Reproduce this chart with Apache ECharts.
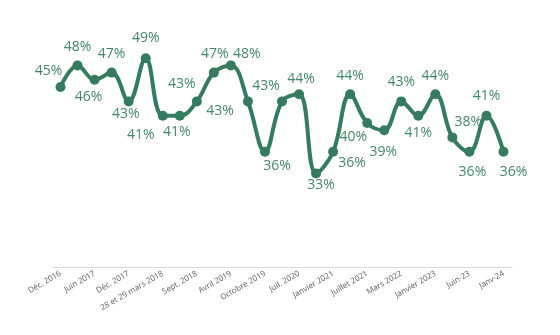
<!DOCTYPE html>
<html>
<head>
<meta charset="utf-8">
<script src="https://cdn.jsdelivr.net/npm/echarts@6/dist/echarts.min.js"></script>
<style>
html,body{margin:0;padding:0;background:#fff;}
#chart{width:560px;height:335px;}
</style>
</head>
<body>
<div id="chart"></div>
<script>
var categories = [
  'Déc. 2016', '', 'Juin 2017', '', 'Déc. 2017', '', '28 et 29 mars 2018', '',
  'Sept. 2018', '', 'Avril 2019', '', 'Octobre 2019', '', 'Juil. 2020', '',
  'Janvier 2021', '', 'Juillet 2021', '', 'Mars 2022', '', 'Janvier 2023', '',
  'Juin-23', '', 'Janv-24'
];
var values = [45, 48, 46, 47, 43, 49, 41, 41, 43, 47, 48, 43, 36, 43, 44, 33, 36, 44, 40, 39, 43, 41, 44, 38, 36, 41, 36];
var labelOffsets = [
  [-12,-16],[0,-18],[-6,17],[0,-19],[-3,13],[0,-20],[-22,19],[-3,16],[-15,-17],
  [1,-19],[16,-11],[-28,10],[12,14],[-16,-15],[2,-15],[5,12],[19,11],[0,-18],
  [-14,14],[-1,22],[0,-19],[0,17],[0,-18],[16,-15],[3,20],[0,-20],[10,20]
];

var chart = echarts.init(document.getElementById('chart'), null, {renderer: 'canvas'});
var green = '#347b5f';
var seriesData = values.map(function (v, i) {
  return {
    value: v,
    label: { offset: labelOffsets[i] }
  };
});
chart.setOption({
  animation: false,
  grid: { left: 52, right: 48, top: 51, bottom: 68 },
  xAxis: {
    type: 'category',
    data: categories,
    boundaryGap: true,
    axisLine: { show: true, lineStyle: { color: '#d9d9d9', width: 1 } },
    axisTick: { show: false },
    axisLabel: {
      interval: 1,
      rotate: 30,
      fontSize: 8,
      color: '#595959',
      fontFamily: 'Open Sans',
      margin: 6
    }
  },
  yAxis: {
    type: 'value',
    min: 20,
    max: 50,
    show: false,
    splitLine: { show: false }
  },
  series: [{
    type: 'line',
    data: seriesData,
    smooth: 0.4,
    symbol: 'circle',
    symbolSize: 10,
    lineStyle: { color: green, width: 4 },
    itemStyle: { color: green },
    label: {
      show: true,
      position: 'inside',
      formatter: function (p) { return p.value + '%'; },
      color: '#428669',
      fontSize: 14,
      fontFamily: 'Open Sans'
    }
  }]
});
</script>
</body>
</html>
